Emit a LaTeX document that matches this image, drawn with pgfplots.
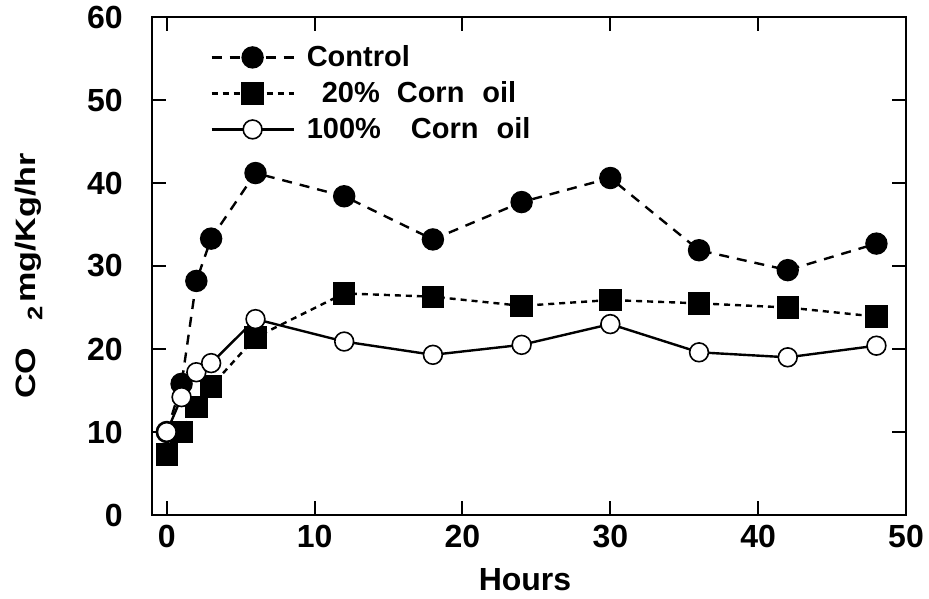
\documentclass[border=0pt]{standalone}
\usepackage{fontspec}
\setmainfont{Liberation Sans}
\usepackage{graphicx}
\usepackage{pgfplots}
\pgfplotsset{compat=1.18}
\usetikzlibrary{calc}

\begin{document}
\begin{tikzpicture}
\begin{axis}[
  name=ax,
  scale only axis, width=377pt, height=249pt,
  xmin=-1, xmax=50, ymin=0, ymax=60,
  xtick={0,10,20,30,40,50}, ytick={0,10,20,30,40,50,60},
  tick align=inside, tick pos=both, major tick length=7pt,
  axis line style={line width=1.2pt}, tick style={line width=1pt, black},
  /pgf/number format/assume math mode=true,
  tick label style={font=\fontsize{16}{18}\selectfont\bfseries},
  xticklabel style={inner sep=0pt, yshift=-5pt},
  yticklabel style={inner sep=0pt, xshift=-14.5pt},
  xlabel={Hours},
  xlabel style={font=\fontsize{16}{18}\selectfont\bfseries,
    at={(axis description cs:0.5,0)}, anchor=north, inner sep=0pt, yshift=-26.5pt, xshift=-2pt},
  ylabel={\scalebox{1.22}[1]{CO\hspace{11pt}\raisebox{-0.45ex}{\fontsize{10.5}{12}\selectfont 2}\hspace{1.5pt}mg/Kg/hr}},
  ylabel style={font=\fontsize{14}{16}\selectfont\bfseries,
    at={(axis description cs:0,0.5)}, anchor=north, inner sep=0pt, yshift=68.5pt, xshift=-5pt},
  legend style={at={(axis description cs:0,1)}, anchor=north west,
    xshift=29pt, yshift=-12pt, draw=none, fill=none, inner sep=0pt,
    font=\fontsize{14.5}{16}\selectfont\bfseries, row sep=2pt,
    cells={anchor=west}},
  legend image code/.code={\draw[mark repeat=2,mark phase=2]
    plot coordinates {(0pt,0pt)(20.5pt,0pt)(41pt,0pt)};},
]
\addplot[black, line width=1.2pt, dash pattern=on 5pt off 4pt,
  mark=*, mark size=5pt, mark options={solid, fill=black}] coordinates {
  (0,10.0) (1,15.8) (2,28.2) (3,33.3) (6,41.2) (12,38.4) (18,33.2)
  (24,37.7) (30,40.6) (36,31.9) (42,29.5) (48,32.7)};
\addlegendentry{\hspace{4pt}Control}
\addplot[black, line width=1.2pt, dash pattern=on 3pt off 2.5pt,
  mark=square*, mark size=5pt, mark options={solid, fill=black}] coordinates {
  (0,7.3) (1,10.0) (2,13.0) (3,15.5) (6,21.4) (12,26.7) (18,26.3)
  (24,25.2) (30,25.9) (36,25.5) (42,25.0) (48,23.9)};
\addlegendentry{\hspace{11.5pt}20\%\hspace{8.5pt}Corn\hspace{9pt}oil}
\addplot[black, line width=1.2pt,
  mark=*, mark size=4.7pt, mark options={solid, fill=white, line width=0.8pt}] coordinates {
  (0,10.0) (1,14.2) (2,17.2) (3,18.3) (6,23.6) (12,20.9) (18,19.3)
  (24,20.5) (30,23.0) (36,19.6) (42,19.0) (48,20.4)};
\addlegendentry{\hspace{4pt}100\%\hspace{15pt}Corn\hspace{9pt}oil}
\end{axis}
\path ($(ax.south west)+(-76pt,-41.5pt)$) rectangle ($(ax.north east)+(11.5pt,8.5pt)$);
\end{tikzpicture}
\end{document}
